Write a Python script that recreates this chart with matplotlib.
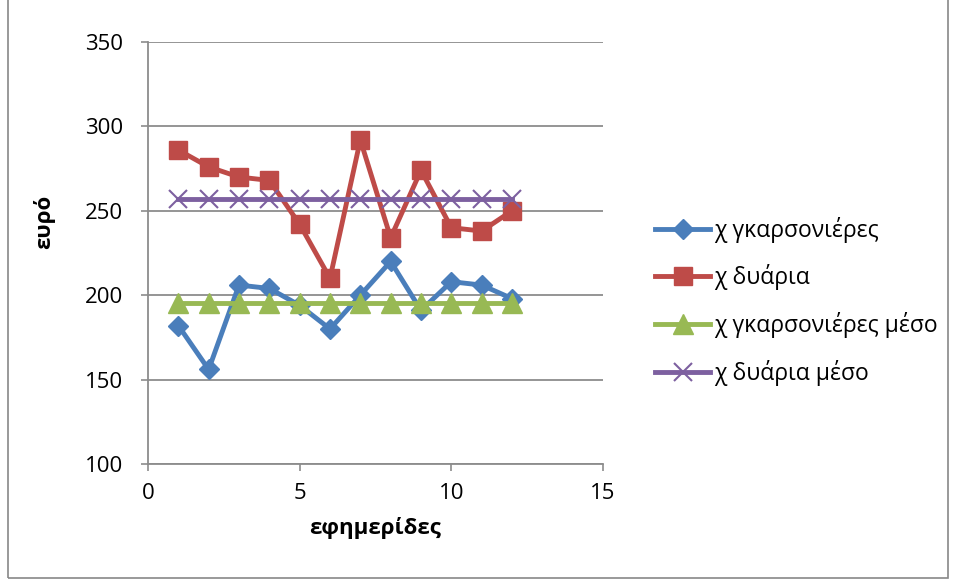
import matplotlib.pyplot as plt
from matplotlib.patches import Rectangle

plt.rcParams['font.family'] = ['Open Sans', 'DejaVu Sans']

# εφημερίδες 1..12
days = [1, 2, 3, 4, 5, 6, 7, 8, 9, 10, 11, 12]
garsonieres = [182, 156, 206, 204, 194, 180, 200, 220, 191, 208, 206, 198]
duaria = [286, 276, 270, 268, 242, 210, 292, 234, 274, 240, 238, 250]
garsonieres_meso = [195.5] * 12
duaria_meso = [256.7] * 12

names = ['χ γκαρσονιέρες', 'χ δυάρια', 'χ γκαρσονιέρες μέσο', 'χ δυάρια μέσο']
colors = ['#4A7EBB', '#BE4B48', '#98B954', '#7D60A0']

fig = plt.figure(figsize=(9.56, 5.8), dpi=100)
ax = fig.add_axes([148 / 956, 1 - 464 / 580, (603 - 148) / 956, (464 - 42) / 580])

# πλαίσιο γραφήματος
fig.patches.append(Rectangle((8 / 956, 0.003), 940 / 956, 1.1, transform=fig.transFigure,
                             fill=False, edgecolor='#888888', linewidth=1.2))

ax.plot(days, garsonieres, color=colors[0], lw=3.5, marker='D', ms=10, label=names[0])
ax.plot(days, duaria, color=colors[1], lw=3.5, marker='s', ms=13, label=names[1])
ax.plot(days, garsonieres_meso, color=colors[2], lw=3.5, marker='^', ms=14, label=names[2])
ax.plot(days, duaria_meso, color=colors[3], lw=3.5, marker='x', ms=13, mew=1.5, label=names[3])

ax.set_xlim(0, 15)
ax.set_ylim(100, 350)
ax.set_xticks([0, 5, 10, 15])
ax.set_yticks([100, 150, 200, 250, 300, 350])
ax.yaxis.grid(True, color='#8c8c8c', lw=1.3)
ax.set_axisbelow(True)
for s in ['top', 'right']:
    ax.spines[s].set_visible(False)
for s in ['left', 'bottom']:
    ax.spines[s].set_color('#8c8c8c')
    ax.spines[s].set_linewidth(1.3)
ax.tick_params(axis='both', colors='#8c8c8c', labelcolor='black', labelsize=16, length=5, width=1.2)
ax.tick_params(axis='y', pad=13)
ax.tick_params(axis='x', pad=9)

ax.set_xlabel('εφημερίδες', fontsize=16, fontweight='bold', labelpad=9)
ax.set_ylabel('ευρό', fontsize=16, fontweight='bold')
ax.yaxis.set_label_coords(-0.204, 0.573)

leg = ax.legend(loc='upper left', bbox_to_anchor=(1.07, 0.635), frameon=False, fontsize=16.5,
                handlelength=2.4, handletextpad=0.15, labelspacing=0.95)

fig.savefig('out.png', dpi=100)
